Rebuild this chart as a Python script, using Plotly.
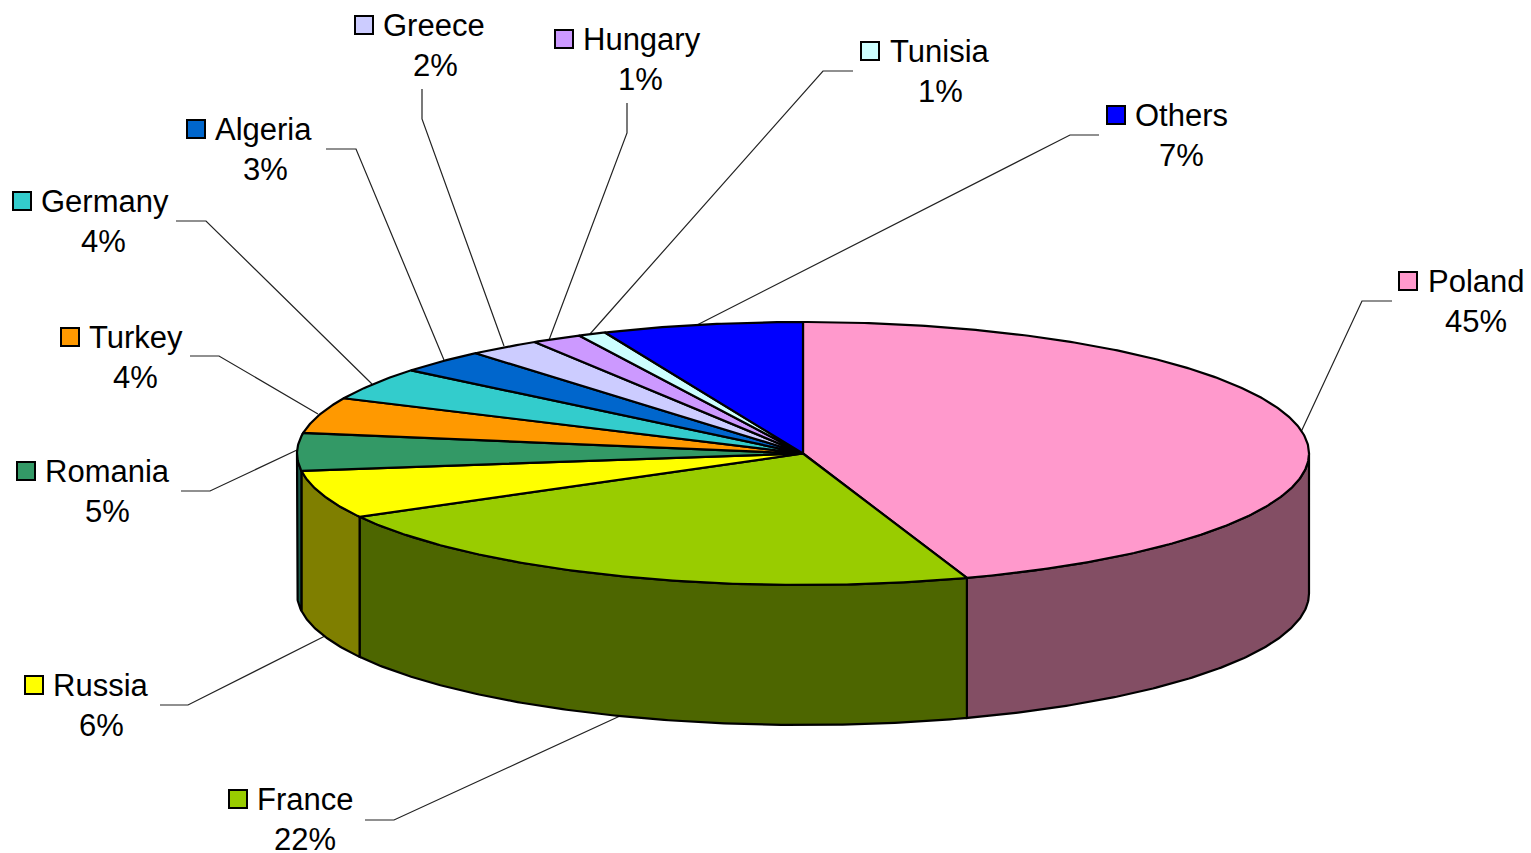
import numpy as np
import plotly.graph_objects as go

# --- data ---
categories = ["Poland", "France", "Russia", "Romania", "Turkey", "Germany",
              "Algeria", "Greece", "Hungary", "Tunisia", "Others"]
values = [44.75, 22.25, 5.9, 4.6, 4.4, 4.0, 2.9, 2.3, 1.6, 0.9, 6.4]
percent_labels = ["45%", "22%", "6%", "5%", "4%", "4%", "3%", "2%", "1%", "1%", "7%"]

# --- styles ---
top_colors = ["#FF99CC", "#99CC00", "#FFFF00", "#339966", "#FF9900", "#33CCCC",
              "#0066CC", "#CCCCFF", "#CC99FF", "#CCFFFF", "#0000FF"]
side_colors = ["#834E64", "#4D6600", "#7F7F00", "#1A5A4A", "#7F4C00", "#196666",
               "#003366", "#66667F", "#664C7F", "#667F7F", "#00007F"]

# --- layout geometry (pixels of the picture) ---
W, H = 1531, 853
CX, CY, RX, RY, DEPTH = 803, 453.5, 506, 131.5, 140
FONT = "Liberation Sans, Arial, sans-serif"
FS = 31
KEY = 18
# key centre x, key centre y, name left x, percent centre x
label_pos = [
    (1408, 281, 1426, 1476), (238, 799, 255, 305), (34, 685, 51, 101),
    (26, 471, 43, 107), (70, 337, 87, 135), (22, 201, 39, 103),
    (196, 129, 213, 265), (364, 25, 381, 435), (564, 39, 581, 640),
    (870, 51, 888, 940), (1116, 115, 1133, 1181),
]
leaders = [
    [(1301, 432), (1362, 301), (1392, 301)],
    [(620, 716), (394, 820), (365, 820)],
    [(325, 636), (188, 705), (160, 705)],
    [(297, 450), (210, 491), (181, 491)],
    [(318, 414), (219, 356), (190, 356)],
    [(372, 384), (206, 221), (176, 221)],
    [(444, 360), (356, 149), (326, 149)],
    [(504, 346), (422, 119), (422, 89)],
    [(549, 340), (627, 133), (627, 103)],
    [(590, 334), (823, 71), (853, 71)],
    [(697, 325), (1070, 135), (1099, 135)],
]


def arc(a0, a1, dy=0.0):
    n = max(2, int(abs(a1 - a0) * 2) + 2)
    t = np.radians(np.linspace(a0, a1, n))
    return CX + RX * np.sin(t), CY - RY * np.cos(t) + dy


fig = go.Figure()

for pts in leaders:
    fig.add_trace(go.Scatter(x=[p[0] for p in pts], y=[p[1] for p in pts], mode="lines",
                             line=dict(color="#222222", width=1.2), hoverinfo="skip"))

edges = np.concatenate([[0], np.cumsum(values)]) / sum(values) * 360

# side walls: only the front half of the ellipse faces the viewer
for i in range(len(values)):
    a0, a1 = max(edges[i], 90), min(edges[i + 1], 270)
    if a1 <= a0:
        continue
    xt, yt = arc(a0, a1)
    xb, yb = arc(a1, a0, DEPTH)
    fig.add_trace(go.Scatter(x=np.r_[xt, xb, xt[0]], y=np.r_[yt, yb, yt[0]], mode="lines",
                             fill="toself", fillcolor=side_colors[i],
                             line=dict(color="black", width=2.2), hoverinfo="skip"))

# top face
for i in range(len(values)):
    xt, yt = arc(edges[i], edges[i + 1])
    fig.add_trace(go.Scatter(x=np.r_[CX, xt, CX], y=np.r_[CY, yt, CY], mode="lines",
                             fill="toself", fillcolor=top_colors[i],
                             line=dict(color="black", width=2.2), hoverinfo="skip"))

shapes, annotations = [], []
for name, pct, col, (kx, ky, nx, px) in zip(categories, percent_labels, top_colors, label_pos):
    shapes.append(dict(type="rect", xref="x", yref="y", x0=kx - KEY / 2, x1=kx + KEY / 2,
                       y0=ky - KEY / 2, y1=ky + KEY / 2, fillcolor=col,
                       line=dict(color="black", width=2)))
    annotations.append(dict(x=nx, y=ky, xref="x", yref="y", text=name, showarrow=False,
                            xanchor="left", yanchor="middle", font=dict(family=FONT, size=FS, color="black")))
    annotations.append(dict(x=px, y=ky + 40, xref="x", yref="y", text=pct, showarrow=False,
                            xanchor="center", yanchor="middle", font=dict(family=FONT, size=FS, color="black")))

fig.update_layout(
    width=W, height=H, margin=dict(l=0, r=0, t=0, b=0), showlegend=False,
    paper_bgcolor="white", plot_bgcolor="white", shapes=shapes, annotations=annotations,
    xaxis=dict(range=[0, W], visible=False, fixedrange=True),
    yaxis=dict(range=[H, 0], visible=False, fixedrange=True),
)
fig.write_html("out.html", config=dict(displayModeBar=False),
               post_script="document.body.style.margin='0';document.body.style.overflow='hidden';")
